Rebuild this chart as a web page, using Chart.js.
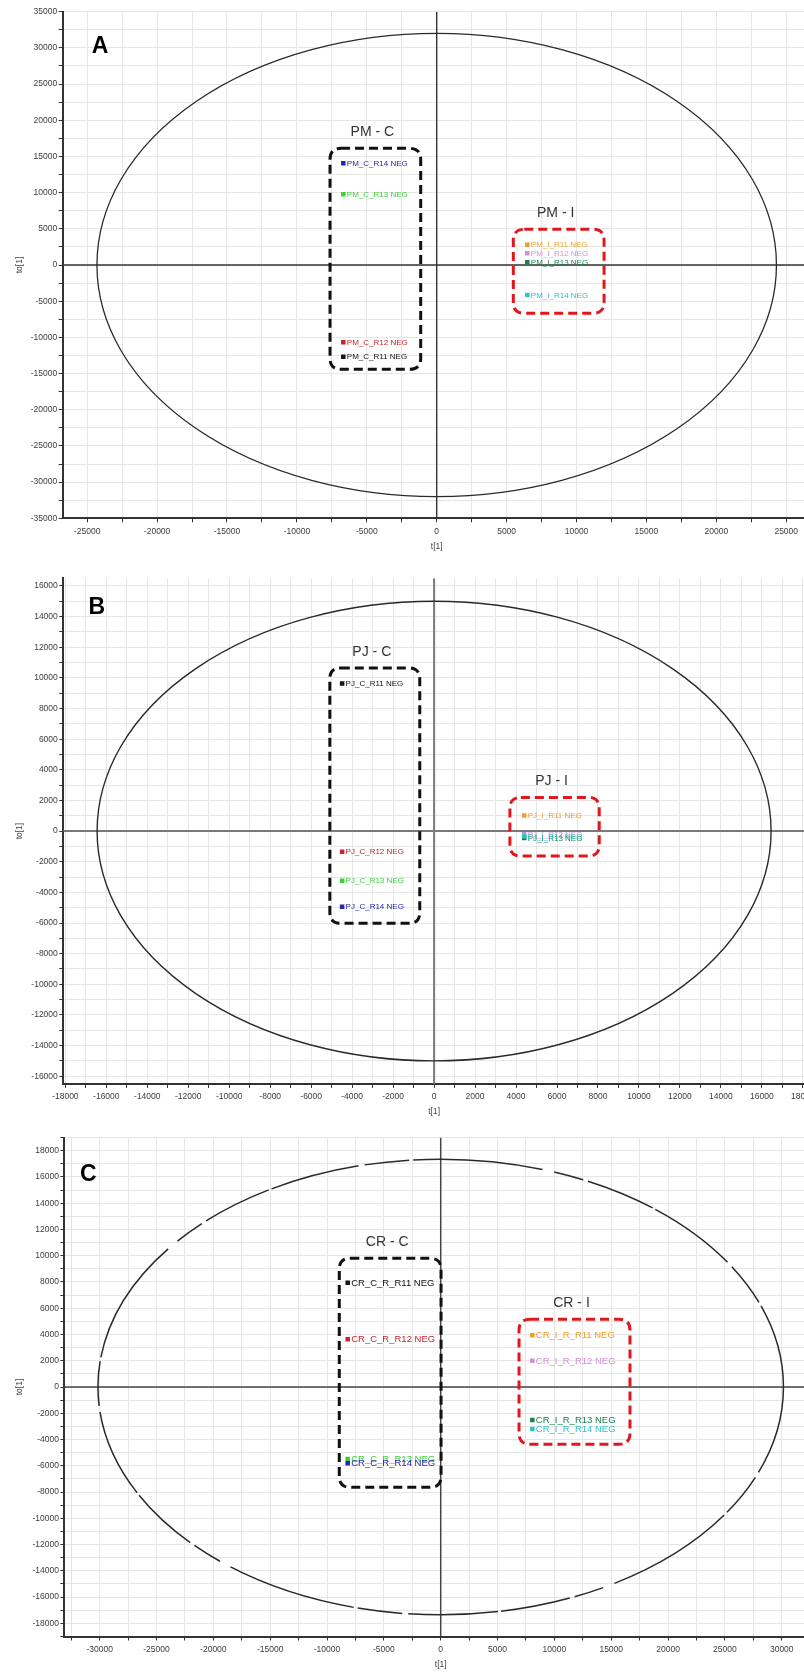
<!DOCTYPE html>
<html>
<head>
<meta charset="utf-8">
<script src="https://cdn.jsdelivr.net/npm/chart.js@4.4.1/dist/chart.umd.min.js"></script>
<style>
  html, body { margin: 0; padding: 0; background: #fff; width: 804px; height: 1672px; overflow: hidden; }
  .panel { position: absolute; left: 0; }
  canvas { display: block; }
</style>
</head>
<body>
<div class="panel" style="top:0px"><canvas id="pm" width="840" height="560"></canvas></div>
<div class="panel" style="top:560px"><canvas id="pj" width="840" height="570"></canvas></div>
<div class="panel" style="top:1120px"><canvas id="cr" width="840" height="552"></canvas></div>
<script>
// Sample colours (C_R11..C_R14, I_R11..I_R14), shared by all three score plots
const sampleColors = ['#141414', '#c8262b', '#3ccf3c', '#2626a8', '#eea027', '#d48fd6', '#1b7f4f', '#33c2c2'];
const groupColors = ['#111111', '#e0171c'];

// ---- A: PM scores ----
const pmNames = ['PM_C_R11 NEG', 'PM_C_R12 NEG', 'PM_C_R13 NEG', 'PM_C_R14 NEG',
                 'PM_I_R11 NEG', 'PM_I_R12 NEG', 'PM_I_R13 NEG', 'PM_I_R14 NEG'];
const pmT1  = [-6680, -6680, -6680, -6680, 6480, 6480, 6480, 6480];
const pmTo1 = [-12670, -10680, 9770, 14050, 2800, 1620, 370, -4140];
const pmEllipse = [24300, 32000];               // Hotelling T2 semi-axes (t[1], to[1])
const pmGroups = ['PM - C', 'PM - I'];
const pmGroupBoxes = [[-7630, -1145, -14410, 16120], [5480, 11970, -6670, 4930]]; // tMin, tMax, toMin, toMax
const pmTickT  = [-25000, -20000, -15000, -10000, -5000, 0, 5000, 10000, 15000, 20000, 25000];
const pmTickTo = [-35000, -30000, -25000, -20000, -15000, -10000, -5000, 0, 5000, 10000, 15000, 20000, 25000, 30000, 35000];

// ---- B: PJ scores ----
const pjNames = ['PJ_C_R11 NEG', 'PJ_C_R12 NEG', 'PJ_C_R13 NEG', 'PJ_C_R14 NEG',
                 'PJ_I_R11 NEG', 'PJ_I_R12 NEG', 'PJ_I_R13 NEG', 'PJ_I_R14 NEG'];
const pjT1  = [-4490, -4490, -4490, -4490, 4400, 4400, 4400, 4400];
const pjTo1 = [9630, -1350, -3240, -4940, 1020, -200, -450, -330];
const pjEllipse = [16450, 15000];
const pjGroups = ['PJ - C', 'PJ - I'];
const pjGroupBoxes = [[-5090, -700, -6020, 10650], [3700, 8060, -1630, 2200]];
const pjTickT  = [-18000, -16000, -14000, -12000, -10000, -8000, -6000, -4000, -2000, 0,
                  2000, 4000, 6000, 8000, 10000, 12000, 14000, 16000, 18000];
const pjTickTo = [-16000, -14000, -12000, -10000, -8000, -6000, -4000, -2000, 0,
                  2000, 4000, 6000, 8000, 10000, 12000, 14000, 16000];

// ---- C: CR scores ----
const crNames = ['CR_C_R_R11 NEG', 'CR_C_R_R12 NEG', 'CR_C_R_R13 NEG', 'CR_C_R_R14 NEG',
                 'CR_I_R_R11 NEG', 'CR_I_R_R12 NEG', 'CR_I_R_R13 NEG', 'CR_I_R_R14 NEG'];
const crT1  = [-8180, -8180, -8180, -8180, 8060, 8060, 8060, 8060];
const crTo1 = [7940, 3630, -5480, -5810, 3940, 2000, -2510, -3200];
const crEllipse = [30150, 17350];
const crGroups = ['CR - C', 'CR - I'];
const crGroupBoxes = [[-8920, 30, -7640, 9800], [6890, 16650, -4360, 5160]];
const crTickT  = [-30000, -25000, -20000, -15000, -10000, -5000, 0, 5000, 10000, 15000, 20000, 25000, 30000];
const crTickTo = [-18000, -16000, -14000, -12000, -10000, -8000, -6000, -4000, -2000, 0,
                  2000, 4000, 6000, 8000, 10000, 12000, 14000, 16000, 18000];

const FONT = '"Liberation Sans", Arial, sans-serif';

function gridValues(min, max, step) {
  const out = [];
  for (let v = Math.ceil(min / step) * step; v <= max + 1e-6; v += step) out.push(v);
  return out;
}

function roundRectPath(ctx, x1, y1, x2, y2, r) {
  ctx.beginPath();
  ctx.moveTo(x1 + r, y1);
  ctx.lineTo(x2 - r, y1);
  ctx.quadraticCurveTo(x2, y1, x2, y1 + r);
  ctx.lineTo(x2, y2 - r);
  ctx.quadraticCurveTo(x2, y2, x2 - r, y2);
  ctx.lineTo(x1 + r, y2);
  ctx.quadraticCurveTo(x1, y2, x1, y2 - r);
  ctx.lineTo(x1, y1 + r);
  ctx.quadraticCurveTo(x1, y1, x1 + r, y1);
  ctx.closePath();
}

// Origin cross-hair, confidence ellipse, group frames, sample labels and panel letter
function decor(p) {
  return {
    id: 'scoreDecor',
    beforeDatasetsDraw(chart) {
      const {ctx, chartArea: a, scales: {x, y}} = chart;
      const x0 = x.getPixelForValue(0), y0 = y.getPixelForValue(0);
      ctx.save();
      ctx.beginPath();
      ctx.rect(a.left, a.top, a.right - a.left, a.bottom - a.top);
      ctx.clip();
      ctx.strokeStyle = p.zeroColor;
      ctx.lineWidth = p.zeroWidth;
      ctx.beginPath();
      ctx.moveTo(x0, a.top); ctx.lineTo(x0, a.bottom);
      ctx.moveTo(a.left, y0); ctx.lineTo(a.right, y0);
      ctx.stroke();
      const rx = x.getPixelForValue(p.ellipse[0]) - x0;
      const ry = y0 - y.getPixelForValue(p.ellipse[1]);
      ctx.strokeStyle = '#2a2a2a';
      ctx.lineWidth = p.ellipseWidth;
      ctx.setLineDash(p.ellipseDash);
      ctx.beginPath();
      ctx.ellipse(x0, y0, rx, ry, 0, 0, Math.PI * 2);
      ctx.stroke();
      ctx.restore();
    },
    afterDatasetsDraw(chart) {
      const {ctx, chartArea: a, scales: {x, y}} = chart;
      ctx.save();
      p.boxes.forEach((b, i) => {
        const x1 = x.getPixelForValue(b[0]), x2 = x.getPixelForValue(b[1]);
        const y1 = y.getPixelForValue(b[3]), y2 = y.getPixelForValue(b[2]);
        ctx.strokeStyle = groupColors[i];
        ctx.lineWidth = 3;
        ctx.setLineDash([9, 5]);
        roundRectPath(ctx, x1, y1, x2, y2, 11);
        ctx.stroke();
        ctx.setLineDash([]);
        ctx.fillStyle = '#333';
        ctx.font = '14px ' + FONT;
        ctx.textAlign = 'center';
        ctx.textBaseline = 'middle';
        ctx.fillText(p.groups[i], (x1 + x2) / 2 - 3, y1 - 16);
      });
      const meta = chart.getDatasetMeta(0);
      ctx.font = p.labelSize + 'px ' + FONT;
      ctx.textAlign = 'left';
      ctx.textBaseline = 'middle';
      meta.data.forEach((pt, i) => {
        ctx.fillStyle = sampleColors[i];
        ctx.fillText(p.names[i], pt.x + 3.5, pt.y + 0.5);
      });
      ctx.fillStyle = '#000';
      ctx.font = 'bold 23px ' + FONT;
      ctx.textAlign = 'center';
      ctx.fillText(p.letter, a.left + p.letterAt[0], a.top + p.letterAt[1]);
      ctx.restore();
    }
  };
}

function makePanel(id, p) {
  const tickFont = {family: FONT, size: 8.5};
  return new Chart(document.getElementById(id), {
    type: 'scatter',
    data: {
      datasets: [{
        data: p.t.map((v, i) => ({x: v, y: p.to[i]})),
        backgroundColor: sampleColors,
        borderColor: sampleColors,
        borderWidth: 0,
        pointStyle: 'rect',
        pointRadius: 3.2,
        pointHoverRadius: 3.2
      }]
    },
    options: {
      responsive: false,
      animation: false,
      devicePixelRatio: 1,
      layout: {padding: p.padding},
      plugins: {legend: {display: false}, tooltip: {enabled: false}},
      scales: {
        x: {
          type: 'linear', position: 'bottom', min: -p.xHalf, max: p.xHalf,
          afterFit: s => { s.height = p.xAxisHeight; },
          afterBuildTicks: s => { s.ticks = gridValues(s.min, s.max, p.xMinor).map(v => ({value: v})); },
          ticks: {autoSkip: false, maxRotation: 0, minRotation: 0, padding: 4, color: '#3c3c3c', font: tickFont,
                  callback: v => p.xTicks.includes(v) ? String(v) : ''},
          grid: {color: '#e6e6e6', lineWidth: 1, tickLength: 4, tickColor: '#333', tickWidth: 1},
          border: {color: '#333', width: 2},
          title: {display: true, text: 't[1]', color: '#444', font: tickFont, padding: {top: 0, bottom: p.xTitlePad}}
        },
        y: {
          type: 'linear', position: 'left', min: -p.yHalf, max: p.yHalf,
          afterFit: s => { s.width = p.yAxisWidth; },
          afterBuildTicks: s => { s.ticks = gridValues(s.min, s.max, p.yMinor).map(v => ({value: v})); },
          ticks: {autoSkip: false, padding: 1.5, color: '#3c3c3c', font: tickFont,
                  callback: v => p.yTicks.includes(v) ? String(v) : ''},
          grid: {color: '#e6e6e6', lineWidth: 1, tickLength: 4, tickColor: '#333', tickWidth: 1},
          border: {color: '#333', width: 2},
          title: {display: true, text: 'to[1]', color: '#444', font: tickFont, padding: {top: 15, bottom: 0}}
        }
      }
    },
    plugins: [decor(p)]
  });
}

makePanel('pm', {
  names: pmNames, t: pmT1, to: pmTo1, ellipse: pmEllipse, ellipseDash: [], ellipseWidth: 1.3,
  groups: pmGroups, boxes: pmGroupBoxes, xTicks: pmTickT, yTicks: pmTickTo,
  xHalf: 26750, yHalf: 35000, xMinor: 2500, yMinor: 2500,
  padding: {left: 0, top: 11.7, right: 29.3, bottom: 1.7},
  yAxisWidth: 62.7, xAxisHeight: 40, xTitlePad: 6.8,
  zeroColor: '#333', zeroWidth: 1.4, labelSize: 8,
  letter: 'A', letterAt: [37.3, 35]
});

makePanel('pj', {
  names: pjNames, t: pjT1, to: pjTo1, ellipse: pjEllipse, ellipseDash: [], ellipseWidth: 1.4,
  groups: pjGroups, boxes: pjGroupBoxes, xTicks: pjTickT, yTicks: pjTickTo,
  xHalf: 18100, yHalf: 16500, xMinor: 1000, yMinor: 1000,
  padding: {left: 0, top: 18.3, right: 35.1, bottom: 6.1},
  yAxisWidth: 63.3, xAxisHeight: 40, xTitlePad: 7.4,
  zeroColor: '#7a7a7a', zeroWidth: 2, labelSize: 8,
  letter: 'B', letterAt: [33.4, 29.4]
});

makePanel('cr', {
  names: crNames, t: crT1, to: crTo1, ellipse: crEllipse,
  ellipseDash: [90, 6, 45, 4, 130, 12, 30, 5, 70, 3], ellipseWidth: 1.5,
  groups: crGroups, boxes: crGroupBoxes, xTicks: crTickT, yTicks: crTickTo,
  xHalf: 33100, yHalf: 19000, xMinor: 2500, yMinor: 1000,
  padding: {left: 0, top: 17.5, right: 23, bottom: 0.5},
  yAxisWidth: 64.4, xAxisHeight: 35, xTitlePad: 1.7,
  zeroColor: '#444', zeroWidth: 1.5, labelSize: 9.5,
  letter: 'C', letterAt: [23.9, 37.5]
});
</script>
</body>
</html>
